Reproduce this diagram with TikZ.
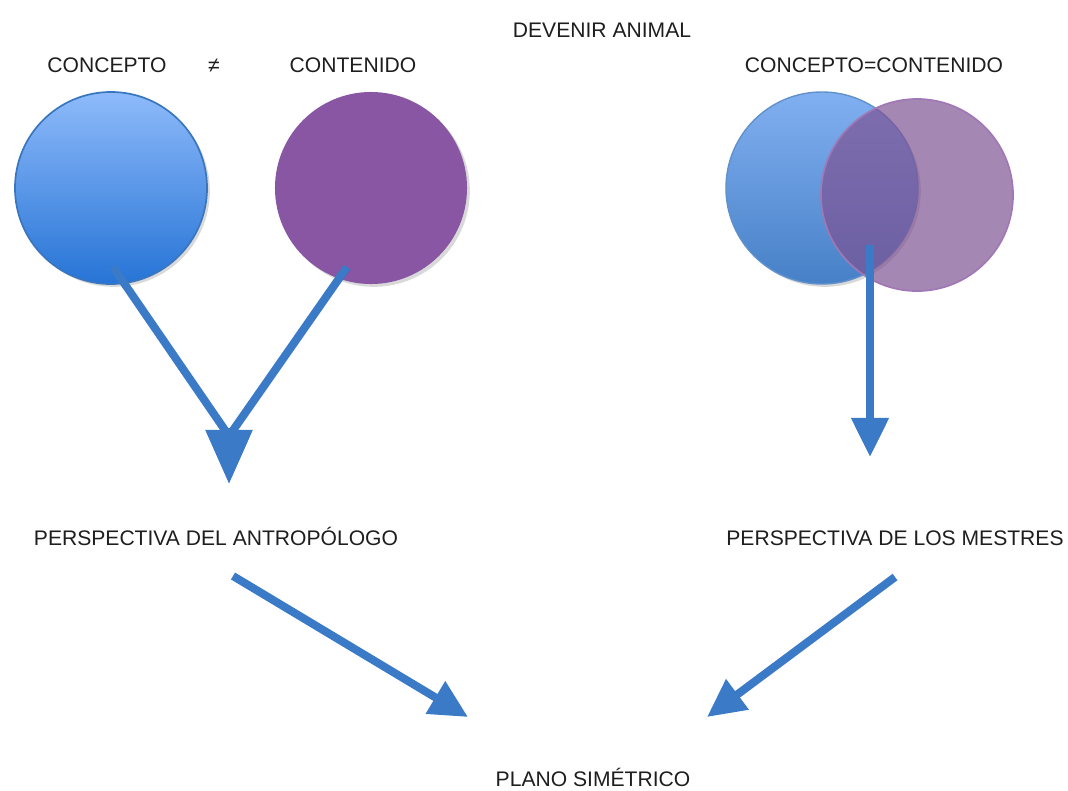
\documentclass[tikz,border=0pt]{standalone}
\usepackage{fontspec}
\setmainfont{Liberation Sans}
\usepackage{tikz}
\usetikzlibrary{arrows.meta,shadows}
\definecolor{arrowblue}{RGB}{58,122,198}
\definecolor{lightblue}{RGB}{142,186,250}
\definecolor{deepblue}{RGB}{38,116,214}
\definecolor{rimblue}{RGB}{58,118,190}
\definecolor{violet}{RGB}{136,86,163}
\definecolor{mixviolet}{RGB}{125,81,146}
\definecolor{textgray}{RGB}{30,30,30}

\begin{document}
\begin{tikzpicture}[x=0.025cm, y=-0.025cm,
    label/.style={font=\fontsize{15pt}{18pt}\selectfont, text=textgray, anchor=base, inner sep=0pt},
    ball/.style={circle, minimum size=4.8cm, inner sep=0pt, drop shadow={opacity=0.3, shadow xshift=2pt, shadow yshift=-2pt}},
    thick arrow/.style={draw=arrowblue, line width=0.2cm,
      preaction={draw=black, opacity=0.18, transform canvas={shift={(2pt,-2pt)}}}}]
      \useasboundingbox (0, 0) rectangle (1068, 791);
      \node[label] (title) at (602, 37) {DEVENIR ANIMAL};
      \node[label] (conc) at (107, 72) {CONCEPTO};
      \node[label] (neq) at (214, 72) {≠};
      \node[label] (cont) at (353, 72) {CONTENIDO};
      \node[label] (same) at (874, 72) {CONCEPTO=CONTENIDO};
      \node[ball, draw=rimblue, line width=1.2pt, top color=lightblue, bottom color=deepblue] (concA) at (111, 188) {};
      \node[ball, fill=violet] (contA) at (371, 188) {};
      \node[ball, draw=rimblue!80, line width=1pt, top color=lightblue!85!rimblue, bottom color=rimblue!85!lightblue] (concB) at (822, 188) {};
      \node[circle, minimum size=4.8cm, inner sep=0pt, fill=mixviolet, fill opacity=0.69, draw=violet!80, line width=1.2pt] (contB) at (917, 195) {};
      \node[label] (antro) at (216, 545) {PERSPECTIVA DEL ANTROPÓLOGO};
      \node[label] (mestres) at (895, 545) {PERSPECTIVA DE LOS MESTRES};
      \node[label] (plano) at (593, 786) {PLANO SIMÉTRICO};
      \coordinate (a1) at (113, 267);
      \coordinate (a2) at (347, 267);
      \coordinate (join) at (229, 436);
      \coordinate (tipA) at (229, 484);
      \coordinate (b1) at (870, 245);
      \coordinate (tipB) at (870, 457);
      \coordinate (c1) at (233, 576);
      \coordinate (tipC) at (468, 717);
      \coordinate (d1) at (895, 577);
      \coordinate (tipD) at (707, 717);
      \draw[thick arrow, line join=miter] (a1) -- (join) -- (a2);
      \draw[thick arrow, -{Triangle[length=1.35cm, width=1.13cm]}] (229, 428) -- (tipA);
      \draw[thick arrow, -{Triangle[length=0.98cm, width=0.9cm]}] (b1) -- (tipB);
      \draw[thick arrow, -{Triangle[length=0.95cm, width=0.9cm]}] (c1) -- (tipC);
      \draw[thick arrow, -{Triangle[length=0.95cm, width=0.9cm]}] (d1) -- (tipD);
\end{tikzpicture}
\end{document}
